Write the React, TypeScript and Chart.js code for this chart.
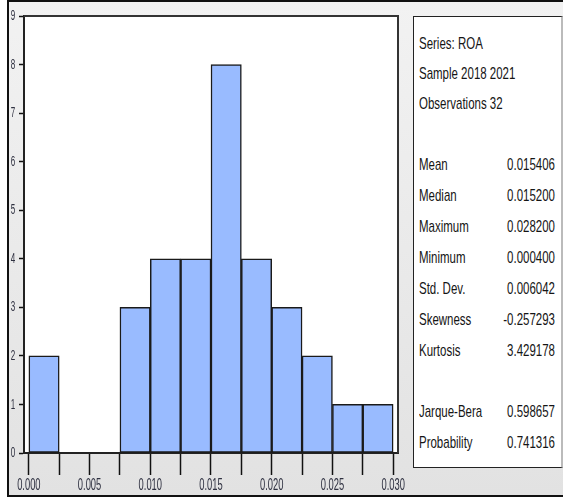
import React, { useEffect, useRef } from "react";
import { Chart, registerables } from "chart.js";

Chart.register(...registerables);

// Histogram bins of ROA (bin width 0.0025)
const binEdges = [0, 0.0025, 0.005, 0.0075, 0.01, 0.0125, 0.015, 0.0175, 0.02, 0.0225, 0.025, 0.0275, 0.03];
const binCounts = [2, 0, 0, 3, 4, 4, 8, 4, 3, 2, 1, 1];
const xTickLabels = ["0.000", "0.005", "0.010", "0.015", "0.020", "0.025", "0.030"];
const yTicks = [0, 1, 2, 3, 4, 5, 6, 7, 8, 9];

const headerLines = ["Series: ROA", "Sample 2018 2021", "Observations 32"];
const statNames = ["Mean", "Median", "Maximum", "Minimum", "Std. Dev.", "Skewness", "Kurtosis"];
const statValues = ["0.015406", "0.015200", "0.028200", "0.000400", "0.006042", "-0.257293", "3.429178"];
const testNames = ["Jarque-Bera", "Probability"];
const testValues = ["0.598657", "0.741316"];

const FONT = "'Liberation Sans', Arial, sans-serif";

function xLabelFor(v: number): string {
  const k = v / 0.005;
  const r = Math.round(k);
  return Math.abs(k - r) < 1e-6 ? xTickLabels[r] ?? "" : "";
}

export default function App() {
  const ref = useRef<HTMLCanvasElement | null>(null);

  useEffect(() => {
    document.body.style.margin = "0";
    const canvas = ref.current;
    if (!canvas) return;
    const centers = binCounts.map((_, i) => (binEdges[i] + binEdges[i + 1]) / 2);
    const frame = {
      id: "frame",
      beforeDraw(chart: any) {
        const { ctx, chartArea: a } = chart;
        ctx.save();
        ctx.fillStyle = "#ffffff";
        ctx.fillRect(a.left, a.top, a.right - a.left, a.bottom - a.top);
        ctx.restore();
      },
      afterDraw(chart: any) {
        const { ctx, chartArea: a, scales } = chart;
        ctx.save();
        ctx.strokeStyle = "#333";
        ctx.lineWidth = 2;
        ctx.beginPath();
        ctx.moveTo(a.left, a.top);
        ctx.lineTo(a.right, a.top);
        ctx.lineTo(a.right, a.bottom);
        ctx.stroke();
        // condensed tick labels
        ctx.textAlign = "center";
        ctx.textBaseline = "middle";
        ctx.font = `13px ${FONT}`;
        ctx.fillStyle = "#2e3040";
        scales.x.ticks.forEach((t: any) => {
          const lab = xLabelFor(t.value);
          if (!lab) return;
          const px = scales.x.getPixelForValue(t.value);
          ctx.save();
          ctx.translate(px, a.bottom + 33);
          ctx.scale(0.72, 1.25);
          ctx.fillText(lab, 0, 0);
          ctx.restore();
        });
        scales.y.ticks.forEach((t: any) => {
          const py = scales.y.getPixelForValue(t.value);
          ctx.save();
          ctx.translate(a.left - 11, py);
          ctx.scale(0.62, 1.15);
          ctx.fillText(String(t.value), 0, 0);
          ctx.restore();
        });
        ctx.restore();
      },
    };
    const chart = new Chart(canvas, {
      type: "bar",
      data: {
        datasets: [
          {
            data: centers.map((c, i) => ({ x: c, y: binCounts[i] === 0 ? null : binCounts[i] })) as any,
            backgroundColor: "#99bbff",
            borderColor: "#1a1a1a",
            borderWidth: 1.5,
            borderSkipped: false,
            barPercentage: 1,
            categoryPercentage: 1,
          },
        ],
      },
      options: {
        animation: false,
        responsive: false,
        maintainAspectRatio: false,
        layout: { padding: { left: 0, top: 16, right: 12, bottom: 0 } },
        plugins: { legend: { display: false }, tooltip: { enabled: false } },
        scales: {
          x: {
            type: "linear",
            offset: false,
            min: -0.0004,
            max: 0.0304,
            afterBuildTicks: (scale: any) => {
              scale.ticks = binEdges.map((v) => ({ value: v }));
            },
            afterFit: (scale: any) => {
              scale.height = 46;
            },
            grid: {
              offset: false,
              drawOnChartArea: false,
              drawTicks: true,
              tickLength: 22,
              tickColor: "#111",
              tickWidth: 1.5,
            },
            border: { display: true, color: "#222", width: 2 },
            ticks: { display: false, autoSkip: false, maxRotation: 0 },
          },
          y: {
            min: 0,
            max: 9,
            afterBuildTicks: (scale: any) => {
              scale.ticks = yTicks.map((v) => ({ value: v }));
            },
            afterFit: (scale: any) => {
              scale.width = 24;
            },
            grid: {
              drawOnChartArea: false,
              drawTicks: true,
              tickLength: 5,
              tickColor: "#111",
              tickWidth: 1.5,
            },
            border: { display: true, color: "#222", width: 2 },
            ticks: { display: false },
          },
        },
      },
      plugins: [frame],
    });
    return () => chart.destroy();
  }, []);

  const SX = 0.82;
  const lineStyle = (y: number): React.CSSProperties => ({
    position: "absolute",
    left: 5,
    width: 136 / SX,
    top: y - 16 - 9,
    height: 18,
    lineHeight: "18px",
    display: "flex",
    justifyContent: "space-between",
    whiteSpace: "nowrap",
    transform: `scale(${SX}, 1.2)`,
    transformOrigin: "left center",
  });

  const headerY = [42, 72, 102];
  const statY = [163, 194, 225, 256, 287, 318, 349];
  const testY = [410, 441];

  return (
    <div
      style={{
        position: "absolute",
        left: 0,
        top: 0,
        width: 563,
        height: 499,
        overflow: "hidden",
        background: "#fff",
      }}
    >
      <div
        style={{
          position: "absolute",
          left: 7,
          top: 0,
          width: 600,
          height: 497,
          boxSizing: "border-box",
          border: "2px solid #111",
          background: "linear-gradient(#f2f2f2, #e2e2e2)",
        }}
      />
      <canvas ref={ref} width={410} height={499} style={{ position: "absolute", left: 0, top: 0 }} />
      <div
        style={{
          position: "absolute",
          left: 413,
          top: 16,
          width: 150,
          height: 452,
          boxSizing: "border-box",
          border: "1.5px solid #222",
          borderRight: "2px solid #bbb",
          background: "#fff",
          fontFamily: FONT,
          fontSize: 14,
          color: "#151515",
        }}
      >
        {headerLines.map((t, i) => (
          <div key={t} style={lineStyle(headerY[i])}>
            <span>{t}</span>
          </div>
        ))}
        {statNames.map((t, i) => (
          <div key={t} style={lineStyle(statY[i])}>
            <span>{t}</span>
            <span>{statValues[i]}</span>
          </div>
        ))}
        {testNames.map((t, i) => (
          <div key={t} style={lineStyle(testY[i])}>
            <span>{t}</span>
            <span>{testValues[i]}</span>
          </div>
        ))}
      </div>
    </div>
  );
}
